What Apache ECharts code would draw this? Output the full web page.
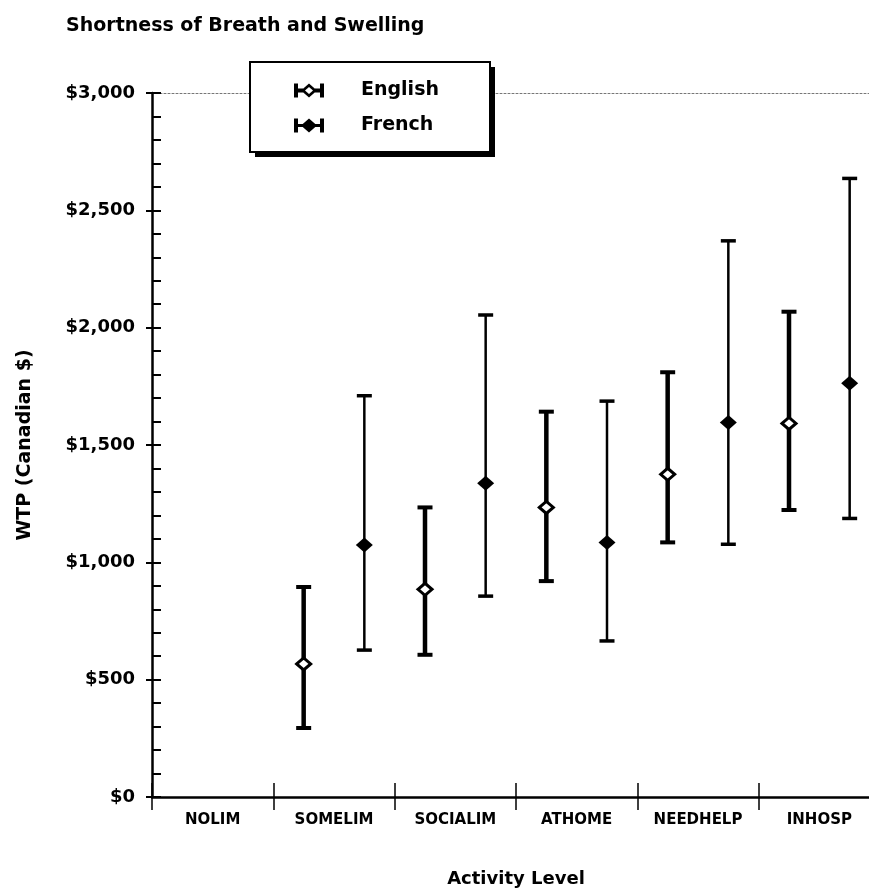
<!DOCTYPE html>
<html>
<head>
<meta charset="utf-8">
<title>Shortness of Breath and Swelling</title>
<script src="https://cdn.jsdelivr.net/npm/echarts@6/dist/echarts.min.js"></script>
<style>
  html, body { margin: 0; padding: 0; background: #fff; }
  #chart { width: 869px; height: 889px; }
</style>
</head>
<body>
<div id="chart"></div>
<script>
// Activity levels on the x axis
const categories = ['NOLIM', 'SOMELIM', 'SOCIALIM', 'ATHOME', 'NEEDHELP', 'INHOSP'];

// Willingness to pay (Canadian $): mean with lower / upper interval bounds
const englishLow  = [null, 294, 606, 920, 1085, 1223];
const englishMean = [null, 567, 885, 1234, 1375, 1592];
const englishHigh = [null, 895, 1234, 1642, 1810, 2068];

const frenchLow  = [null, 626, 856, 665, 1077, 1187];
const frenchMean = [null, 1074, 1337, 1085, 1596, 1763];
const frenchHigh = [null, 1710, 2054, 1687, 2370, 2636];

// Value axis
const yMin = 0;
const yMax = 3000;
const yMajor = 500;
const yMinor = 100;

const FONT = 'DejaVu Sans';

function toRows(low, mean, high) {
  const rows = [];
  for (let i = 0; i < categories.length; i++) {
    if (mean[i] == null) continue;
    rows.push([i, low[i], mean[i], high[i]]);
  }
  return rows;
}

// Error bar with diamond marker, shifted left/right inside its category band
function makeRenderer(side, stemWidth, capThick, hollow) {
  return function (params, api) {
    const cat = api.value(0);
    const lo = api.coord([cat, api.value(1)]);
    const mid = api.coord([cat, api.value(2)]);
    const hi = api.coord([cat, api.value(3)]);
    const band = api.size([1, 0])[0];
    const x = lo[0] + side * band * 0.25;
    const capHalf = 7.5;
    const children = [
      { type: 'line', shape: { x1: x, y1: lo[1], x2: x, y2: hi[1] },
        style: { stroke: '#000', lineWidth: stemWidth } },
      { type: 'line', shape: { x1: x - capHalf, y1: hi[1], x2: x + capHalf, y2: hi[1] },
        style: { stroke: '#000', lineWidth: capThick } },
      { type: 'line', shape: { x1: x - capHalf, y1: lo[1], x2: x + capHalf, y2: lo[1] },
        style: { stroke: '#000', lineWidth: capThick } }
    ];
    if (hollow) {
      const hw = 7, hh = 6;
      children.push({ type: 'polygon',
        shape: { points: [[x - hw, mid[1]], [x, mid[1] - hh], [x + hw, mid[1]], [x, mid[1] + hh]] },
        style: { fill: '#fff', stroke: '#000', lineWidth: 3 } });
    } else {
      const hw = 8.5, hh = 7.5;
      children.push({ type: 'polygon',
        shape: { points: [[x - hw, mid[1]], [x, mid[1] - hh], [x + hw, mid[1]], [x, mid[1] + hh]] },
        style: { fill: '#000' } });
    }
    return { type: 'group', children: children };
  };
}

// Legend glyphs: capped bar with hollow / filled diamond
const englishIcon = 'path://M0,0H4V14H0Z M3,5H9V9H3Z M7,7L15,0L23,7L15,14Z M11,7L15,10.5L19,7L15,3.5Z M21,5H27V9H21Z M26,0H30V14H26Z';
const frenchIcon = 'path://M0,0H4V14H0Z M3,5.5H27V8.5H3Z M7,7L15,0L23,7L15,14Z M26,0H30V14H26Z';

const labelCommon = { color: '#000', fontFamily: FONT, fontWeight: 'bold' };

const chart = echarts.init(document.getElementById('chart'), null, { renderer: 'canvas' });

chart.setOption({
  backgroundColor: '#fff',
  animation: false,
  title: {
    text: 'Shortness of Breath and Swelling',
    left: 66,
    top: 17,
    padding: 0,
    textStyle: Object.assign({ fontSize: 19 }, labelCommon)
  },
  // Legend frame with a solid drop shadow
  graphic: [
    { type: 'rect', z: 3, shape: { x: 255, y: 67, width: 240, height: 90 },
      style: { fill: '#000' } },
    { type: 'rect', z: 3, shape: { x: 250, y: 62, width: 240, height: 90 },
      style: { fill: '#fff', stroke: '#000', lineWidth: 2 } }
  ],
  legend: {
    orient: 'vertical',
    left: 249,
    top: 64,
    padding: [17, 46, 17, 45],
    itemGap: 16,
    itemWidth: 30,
    itemHeight: 14,
    selectedMode: false,
    z: 6,
    textStyle: Object.assign({ fontSize: 19, padding: [0, 0, 0, 32] }, labelCommon),
    data: [
      { name: 'English', icon: englishIcon },
      { name: 'French', icon: frenchIcon }
    ]
  },
  grid: {
    left: 152,
    right: -11,
    top: 93,
    bottom: 92,
    containLabel: false,
    outerBoundsMode: 'none'
  },
  xAxis: [
    {
      type: 'category',
      data: categories,
      boundaryGap: true,
      position: 'bottom',
      name: 'Activity Level',
      nameLocation: 'middle',
      nameGap: 73,
      nameTextStyle: Object.assign({ fontSize: 18 }, labelCommon),
      axisLine: { lineStyle: { color: '#000', width: 2.5 } },
      axisTick: { show: true, inside: true, length: 14, interval: 0, lineStyle: { color: '#000', width: 1.5 } },
      axisLabel: Object.assign({ fontSize: 15, margin: 16, interval: 0 }, labelCommon),
      splitLine: { show: false }
    },
    {
      type: 'category',
      data: categories,
      boundaryGap: true,
      position: 'bottom',
      axisLine: { show: false },
      axisTick: { show: true, inside: false, length: 13, interval: 0, lineStyle: { color: '#000', width: 1.5 } },
      axisLabel: { show: false },
      splitLine: { show: false }
    },
    {
      type: 'category',
      data: categories,
      boundaryGap: true,
      position: 'top',
      axisLine: { lineStyle: { color: '#777', width: 1, type: [2, 2] } },
      axisTick: { show: false },
      axisLabel: { show: false },
      splitLine: { show: false }
    }
  ],
  yAxis: [
    {
      type: 'value',
      min: yMin,
      max: yMax,
      interval: yMajor,
      position: 'left',
      name: 'WTP (Canadian $)',
      nameLocation: 'middle',
      nameRotate: 90,
      nameGap: 117,
      nameTextStyle: Object.assign({ fontSize: 19 }, labelCommon),
      axisLine: { show: true, lineStyle: { color: '#000', width: 2.5 } },
      axisTick: { show: true, inside: false, length: 6, lineStyle: { color: '#000', width: 2 } },
      axisLabel: Object.assign({
        fontSize: 18,
        margin: 17,
        formatter: function (v) { return '$' + v.toLocaleString('en-US'); }
      }, labelCommon),
      splitLine: { show: false }
    },
    {
      type: 'value',
      min: yMin,
      max: yMax,
      interval: yMinor,
      position: 'left',
      axisLine: { show: false },
      axisTick: { show: true, inside: true, length: 9, lineStyle: { color: '#000', width: 2 } },
      axisLabel: { show: false },
      splitLine: { show: false }
    }
  ],
  series: [
    {
      name: 'English',
      type: 'custom',
      xAxisIndex: 0,
      yAxisIndex: 0,
      itemStyle: { color: '#000' },
      renderItem: makeRenderer(-1, 4.5, 4, true),
      encode: { x: 0, y: [1, 2, 3] },
      data: toRows(englishLow, englishMean, englishHigh),
      z: 5
    },
    {
      name: 'French',
      type: 'custom',
      xAxisIndex: 0,
      yAxisIndex: 0,
      itemStyle: { color: '#000' },
      renderItem: makeRenderer(1, 2.5, 3.5, false),
      encode: { x: 0, y: [1, 2, 3] },
      data: toRows(frenchLow, frenchMean, frenchHigh),
      z: 5
    }
  ]
});
</script>
</body>
</html>
